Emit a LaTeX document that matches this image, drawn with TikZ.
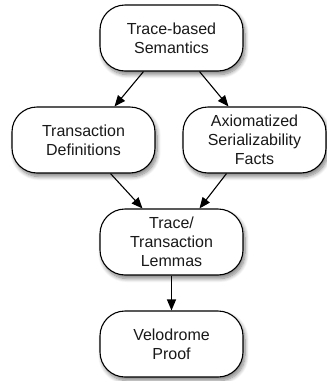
\documentclass[tikz,border=0pt]{standalone}
\usepackage{fontspec}
\setmainfont{Liberation Sans}
\usetikzlibrary{arrows.meta,shadows.blur}
\begin{document}
\begin{tikzpicture}[x=1pt,y=1pt,
  stage/.style={draw=black, line width=1.1pt, fill=white, rounded corners=25pt,
    minimum width=143pt, minimum height=66pt, inner sep=0pt, align=center,
    font=\fontsize{16}{19}\selectfont, text=black!90,
    blur shadow={shadow xshift=2pt, shadow yshift=-3.5pt, shadow blur radius=4pt,
      shadow blur steps=8, shadow opacity=50}},
  flow/.style={line width=1.1pt, -{Triangle[length=11pt,width=9pt]}}]
\useasboundingbox (0,0) rectangle (327,-381);
\node[stage] (sem)  at (171.5,-38)  {Trace-based\\Semantics};
\node[stage] (defs) at (83.5,-140)  {Transaction\\Definitions};
\node[stage] (ser)  at (254.5,-140) {Axiomatized\\Serializability\\Facts};
\node[stage] (lem)  at (171.5,-242) {Trace/\\Transaction\\Lemmas};
\node[stage] (velo) at (171.5,-344) {Velodrome\\Proof};
\draw[flow] ([xshift=-28pt]sem.south) -- ([xshift=31pt]defs.north);
\draw[flow] ([xshift=28pt]sem.south) -- ([xshift=-26pt]ser.north);
\draw[flow] ([xshift=27pt]defs.south) -- ([xshift=-29pt]lem.north);
\draw[flow] ([xshift=-28pt]ser.south) -- ([xshift=28pt]lem.north);
\draw[flow] (lem.south) -- (velo.north);
\end{tikzpicture}
\end{document}
